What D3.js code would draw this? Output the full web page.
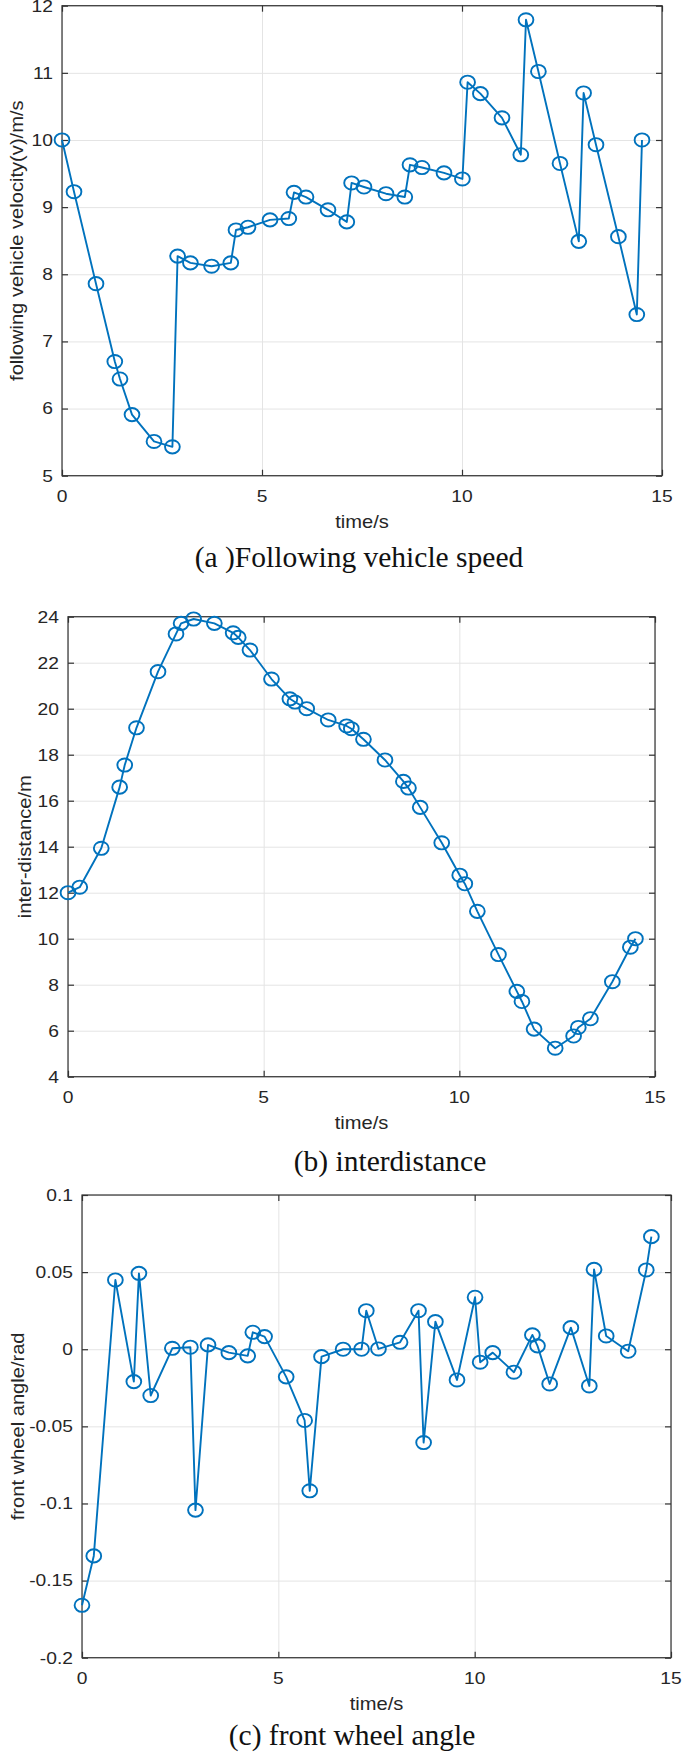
<!DOCTYPE html>
<html><head><meta charset="utf-8">
<script src="https://cdn.jsdelivr.net/npm/d3@7"></script>
<style>body{margin:0;background:#fff;} svg{display:block}</style>
</head><body>
<svg id="c" width="685" height="1754"></svg>
<script>
// ---- data ----
const time = [0, 0.30, 0.85, 1.32, 1.45, 1.75, 2.30, 2.76, 2.89, 3.21, 3.74, 4.22, 4.35, 4.65, 5.20, 5.67, 5.80, 6.10, 6.65, 7.12, 7.24, 7.55, 8.10, 8.57, 8.70, 9.00, 9.55, 10.01, 10.14, 10.46, 11.00, 11.47, 11.60, 11.91, 12.45, 12.92, 13.04, 13.35, 13.91, 14.37, 14.50];
const speed = [10.0, 9.23, 7.86, 6.70, 6.44, 5.91, 5.51, 5.43, 8.27, 8.17, 8.12, 8.17, 8.66, 8.70, 8.81, 8.83, 9.22, 9.15, 8.96, 8.78, 9.36, 9.30, 9.20, 9.15, 9.63, 9.59, 9.51, 9.42, 10.86, 10.69, 10.33, 9.78, 11.79, 11.02, 9.65, 8.49, 10.70, 9.93, 8.56, 7.40, 10.0];
const gap = [12.0, 12.24, 13.93, 16.59, 17.55, 19.17, 21.61, 23.25, 23.71, 23.90, 23.71, 23.30, 23.10, 22.55, 21.29, 20.43, 20.29, 20.0, 19.51, 19.25, 19.13, 18.67, 17.77, 16.84, 16.55, 15.71, 14.17, 12.76, 12.39, 11.19, 9.31, 7.71, 7.27, 6.07, 5.24, 5.77, 6.14, 6.52, 8.13, 9.63, 10.0];
const angle = [-0.166, -0.134, 0.0449, -0.021, 0.0492, -0.030, 0.0006, 0.0013, -0.1043, 0.0028, -0.0022, -0.0043, 0.011, 0.0082, -0.0179, -0.0462, -0.0918, -0.0048, 0, 0, 0.025, 0.0002, 0.0045, 0.025, -0.0605, 0.0179, -0.0199, 0.0337, -0.0084, -0.0022, -0.0149, 0.0093, 0.0022, -0.0225, 0.014, -0.0238, 0.0518, 0.0086, -0.0013, 0.0514, 0.073];

const xTicks = [0, 5, 10, 15];
const xTickLabels = ["0", "5", "10", "15"];
const speedTicks = [5, 6, 7, 8, 9, 10, 11, 12];
const speedTickLabels = ["5", "6", "7", "8", "9", "10", "11", "12"];
const gapTicks = [4, 6, 8, 10, 12, 14, 16, 18, 20, 22, 24];
const gapTickLabels = ["4", "6", "8", "10", "12", "14", "16", "18", "20", "22", "24"];
const angleTicks = [-0.2, -0.15, -0.1, -0.05, 0, 0.05, 0.1];
const angleTickLabels = ["-0.2", "-0.15", "-0.1", "-0.05", "0", "0.05", "0.1"];
const xLabel = "time/s";
const yLabels = ["following vehicle velocity(v)/m/s", "inter-distance/m", "front wheel angle/rad"];
const captions = ["(a )Following vehicle speed", "(b) interdistance", "(c) front wheel angle"];

// ---- layout ----
const panels = [
  {L: 62, R: 662, T: 5.7, B: 475.7, values: speed, ydom: [5, 12], yt: speedTicks, ytl: speedTickLabels, ylx: 22.7, capX: 359, capY: 566.7},
  {L: 68, R: 655, T: 616.7, B: 1076.7, values: gap, ydom: [4, 24], yt: gapTicks, ytl: gapTickLabels, ylx: 30.5, capX: 390, capY: 1171},
  {L: 82, R: 671, T: 1195, B: 1657.7, values: angle, ydom: [-0.2, 0.1], yt: angleTicks, ytl: angleTickLabels, ylx: 24, capX: 352, capY: 1745}
];

const svg = d3.select("#c");
const BLUE = "#0072BD";
const TXT = "#262626";
const SANS = "'Liberation Sans', Arial, Helvetica, sans-serif";
const SERIF = "'Liberation Serif', 'Times New Roman', serif";

panels.forEach((p, i) => {
  const x = d3.scaleLinear().domain([0, 15]).range([p.L, p.R]);
  const y = d3.scaleLinear().domain(p.ydom).range([p.B, p.T]);
  const g = svg.append("g");
  const H = p.B - p.T, W = p.R - p.L;

  // grid
  const gx = g.append("g").attr("transform", `translate(0,${p.B})`)
    .call(d3.axisBottom(x).tickValues(xTicks).tickSize(-H).tickFormat(""));
  const gy = g.append("g").attr("transform", `translate(${p.L},0)`)
    .call(d3.axisLeft(y).tickValues(p.yt).tickSize(-W).tickFormat(""));
  [gx, gy].forEach(a => {
    a.select(".domain").remove();
    a.selectAll(".tick line").attr("stroke", "#e4e4e4").attr("stroke-width", 1);
  });

  // tick marks (inward, all four sides)
  const mk = [
    g.append("g").attr("transform", `translate(0,${p.B})`).call(d3.axisBottom(x).tickValues(xTicks).tickSize(-6).tickFormat("")),
    g.append("g").attr("transform", `translate(0,${p.T})`).call(d3.axisTop(x).tickValues(xTicks).tickSize(-6).tickFormat("")),
    g.append("g").attr("transform", `translate(${p.L},0)`).call(d3.axisLeft(y).tickValues(p.yt).tickSize(-6).tickFormat("")),
    g.append("g").attr("transform", `translate(${p.R},0)`).call(d3.axisRight(y).tickValues(p.yt).tickSize(-6).tickFormat(""))
  ];
  mk.forEach(a => {
    a.select(".domain").remove();
    a.selectAll(".tick line").attr("stroke", "#333").attr("stroke-width", 1.2);
  });

  // box
  g.append("rect").attr("x", p.L).attr("y", p.T).attr("width", W).attr("height", H)
    .attr("fill", "none").attr("stroke", "#333").attr("stroke-width", 1.2);

  // tick labels
  xTicks.forEach((t, k) => {
    g.append("text").attr("transform", `translate(${x(t)},${p.B + 26}) scale(1.18,1)`)
      .attr("text-anchor", "middle").attr("font-family", SANS).attr("font-size", 16.3)
      .attr("fill", TXT).text(xTickLabels[k]);
  });
  p.yt.forEach((t, k) => {
    g.append("text").attr("transform", `translate(${p.L - 9},${y(t) + 5.8}) scale(1.18,1)`)
      .attr("text-anchor", "end").attr("font-family", SANS).attr("font-size", 16.3)
      .attr("fill", TXT).text(p.ytl[k]);
  });

  // axis labels
  g.append("text").attr("transform", `translate(${(p.L + p.R) / 2},${p.B + 52}) scale(1.15,1)`)
    .attr("text-anchor", "middle").attr("font-family", SANS).attr("font-size", 17.5)
    .attr("fill", TXT).text(xLabel);
  g.append("text").attr("transform", `translate(${p.ylx},${(p.T + p.B) / 2}) rotate(-90) scale(1.15,1)`)
    .attr("text-anchor", "middle").attr("font-family", SANS).attr("font-size", 17.5)
    .attr("fill", TXT).text(yLabels[i]);

  // caption
  g.append("text").attr("x", p.capX).attr("y", p.capY)
    .attr("text-anchor", "middle").attr("font-family", SERIF).attr("font-size", 29.5)
    .attr("fill", "#111").text(captions[i]);

  // series
  const pts = time.map((t, k) => [t, p.values[k]]);
  g.append("path").datum(pts)
    .attr("d", d3.line().x(d => x(d[0])).y(d => y(d[1])))
    .attr("fill", "none").attr("stroke", BLUE).attr("stroke-width", 1.9).attr("stroke-linejoin", "round");
  g.selectAll("ellipse.m").data(pts).join("ellipse").attr("class", "m")
    .attr("cx", d => x(d[0])).attr("cy", d => y(d[1]))
    .attr("rx", 7.4).attr("ry", 6.6)
    .attr("fill", "none").attr("stroke", BLUE).attr("stroke-width", 1.9);
});
</script>
</body></html>
